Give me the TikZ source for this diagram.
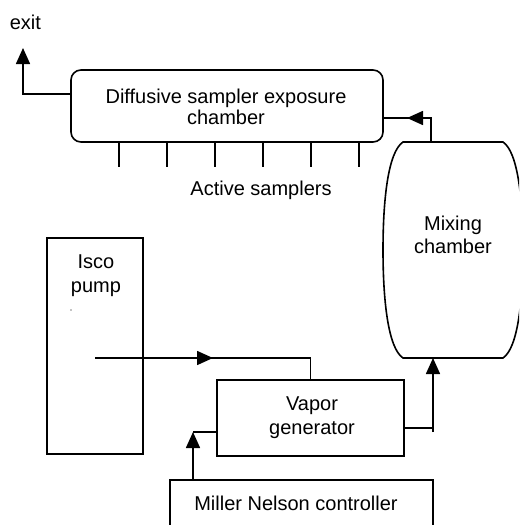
\documentclass[tikz,border=0pt]{standalone}
\usepackage{fontspec}
\setmainfont{Liberation Sans}
\usetikzlibrary{arrows.meta,calc}
\begin{document}
\begin{tikzpicture}[x=0.75pt,y=-0.75pt,
  line width=1.2pt,
  every node/.style={font=\fontsize{15}{18.5}\selectfont},
  box/.style={draw,rectangle,inner sep=0pt},
  lbl/.style={inner sep=0pt,anchor=base},
  arrowtip/.style={-{Triangle[length=12pt,width=10.5pt]}}]
\clip (0,0) rectangle (519,525);
% boxes
\node[box,rounded corners=7.5pt,minimum width=234pt,minimum height=54pt] (dsc) at (227,106) {};
\node[box,minimum width=72pt,minimum height=162pt] (isco) at (95,346) {};
\node[box,minimum width=140.25pt,minimum height=57pt] (vg) at (310.5,418) {};
\node[box,minimum width=197.25pt,minimum height=48.75pt] (mnc) at (301.5,512.5) {};
% mixing chamber
\coordinate (mixtl) at (403,142);
\coordinate (mixtr) at (503,142);
\coordinate (mixbl) at (403,358);
\coordinate (mixbr) at (503,358);
\draw (mixtl) -- (mixtr)
  .. controls (518,152) and (523,200) .. (523,250)
  .. controls (523,300) and (518,348) .. (mixbr)
  -- (mixbl)
  .. controls (388,348) and (383,300) .. (383,250)
  .. controls (383,200) and (388,152) .. (mixtl) -- cycle;
% texts
\node[lbl,anchor=base west] (exittxt) at (9,29) {exit};
\node[lbl] (dsct1) at (226,103) {Diffusive sampler exposure};
\node[lbl] (dsct2) at (226,124) {chamber};
\node[lbl] (acttxt) at (261,195) {Active samplers};
\node[lbl] (iscot1) at (96,268) {Isco};
\node[lbl] (iscot2) at (96,292) {pump};
\node[lbl] (mixt1) at (453,230) {Mixing};
\node[lbl] (mixt2) at (453,253) {chamber};
\node[lbl] (vgt1) at (312,410) {Vapor};
\node[lbl] (vgt2) at (312,434) {generator};
\node[lbl] (mnct) at (296,510) {Miller Nelson controller};
\fill (71,310) circle (0.5pt);
% exit
\coordinate (exitend) at (23,48);
\draw[arrowtip] ($(dsc.west)+(0,-12)$) -| (exitend);
% samplers
\foreach \x in {119,167,...,359}
  \draw ($(dsc.south)+(\x-227,0)$) -- ++(0,24);
% mixing -> exposure chamber
\coordinate (mixout) at (431,142);
\coordinate (dscin) at ($(dsc.east)+(0,12)$);
\draw (mixout) |- (dscin);
\draw[arrowtip] (mixout |- dscin) -- ++(-24,0);
% isco -> vapor generator
\coordinate (iscoout) at ($(isco.center)+(0,12)$);
\draw (iscoout) -| (vg.north);
\draw[arrowtip] (iscoout) -- (213,358);
% vapor generator -> mixing
\coordinate (vgout) at ($(vg.east)+(0,10)$);
\coordinate (mixin) at (433,358);
\draw (vgout) -- (433,428);
\draw[arrowtip] (433,432) -- (mixin);
% controller -> vapor generator
\coordinate (mncout) at (193,480);
\coordinate (vgin) at ($(vg.west)+(0,14)$);
\draw (mncout |- vgin) -- (vgin);
\draw[arrowtip] (mncout) -- (mncout |- vgin);
\end{tikzpicture}
\end{document}
